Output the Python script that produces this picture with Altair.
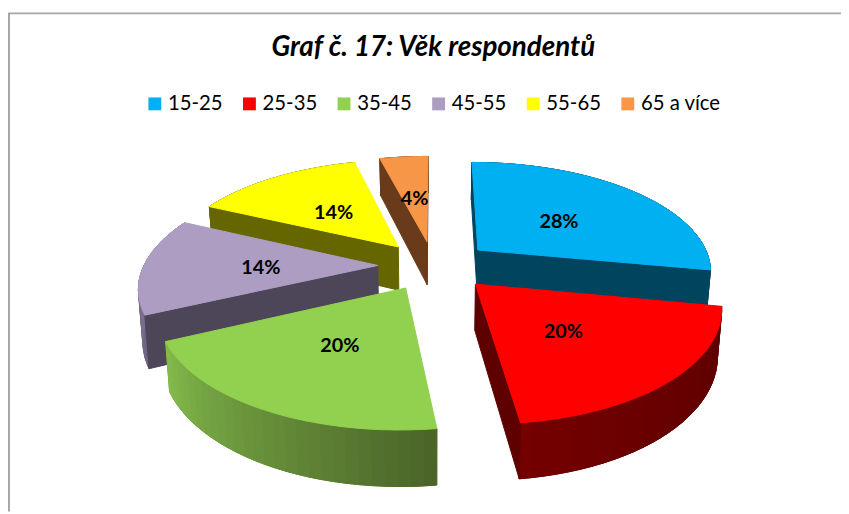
import math
import altair as alt
import pandas as pd

# ---- chart values
categories = ["15-25", "25-35", "35-45", "45-55", "55-65", "65 a více"]
values = [28, 20, 20, 14, 14, 4]
top_colors = ["#00B0F0", "#FF0000", "#92D050", "#AD9DC3", "#FFFF00", "#F79646"]
cut_colors = ["#00445E", "#5E0000", "#4A6328", "#4D4558", "#666600", "#693B1A"]
arc_start_colors = ["#00445E", "#5A0000", "#4A6328", "#6E6380", "#666600", "#693B1A"]
arc_end_colors = ["#00445E", "#740000", "#84BC4C", "#8E83A0", "#666600", "#693B1A"]
draw_order = [5, 4, 0, 3, 1, 2]

# ---- page layout and camera of the 3D pie
WIDTH, HEIGHT = 841, 446
PAD_TOP = 60
OX, OY = 8, 8 + PAD_TOP
CX, CY = 435.6, 265.5
AX, BY, K = 236, 109, 0.176
EXPLODE = 0.23
BASE_SHRINK = 0.985
slice_nudge = [6, 6, 1, 0, 0, 2]
slice_depth = [45, 45, 45, 50, 45, 45]
label_nudge = [0, -3, 0, 0, 1, 0]
nudge = 0
depth = 45


def project(px, py):
    w = 1 + K * py
    return CX + nudge + AX * px / w - OX, CY - BY * py / w - OY, w


def bottom(px, py):
    x, y, w = project(px, py)
    return (CX - OX) + (x - (CX - OX)) * BASE_SHRINK, y + depth / w


def top(px, py):
    x, y, _ = project(px, py)
    return x, y


def area(pts):
    return sum(
        pts[i][0] * pts[(i + 1) % len(pts)][1] - pts[(i + 1) % len(pts)][0] * pts[i][1]
        for i in range(len(pts))
    )


def mix(c1, c2, t):
    a = [int(c1[i:i + 2], 16) for i in (1, 3, 5)]
    b = [int(c2[i:i + 2], 16) for i in (1, 3, 5)]
    return "#%02X%02X%02X" % tuple(round(u + (v - u) * t) for u, v in zip(a, b))


def feature(pts, fill):
    ring = [[round(x, 2), round(y, 2)] for x, y in pts]
    ring.append(ring[0])
    return {
        "type": "Feature",
        "geometry": {"type": "Polygon", "coordinates": [ring]},
        "properties": {"fill": fill},
    }


# ---- slices computed from the values
total = sum(values)
starts, acc = [], 0
for v in values:
    starts.append(acc / total * 2 * math.pi)
    acc += v

features, labels = [], []
for i in draw_order:
    nudge = slice_nudge[i]
    depth = slice_depth[i]
    a0 = starts[i]
    a1 = a0 + values[i] / total * 2 * math.pi
    mid = (a0 + a1) / 2
    ax, ay = EXPLODE * math.sin(mid), EXPLODE * math.cos(mid)
    steps = max(4, int(math.degrees(a1 - a0) / 2.5))
    rim = [
        (ax + math.sin(a0 + (a1 - a0) * s / steps), ay + math.cos(a0 + (a1 - a0) * s / steps))
        for s in range(steps + 1)
    ]
    outline = [top(ax, ay)] + [top(*p) for p in rim]
    sign = area(outline)
    # outer wall: one base shape, then shaded strips
    base = [top(*p) for p in rim] + [bottom(*p) for p in reversed(rim)]
    features.append(feature(base, mix(arc_start_colors[i], arc_end_colors[i], 0.5)))
    for s in range(steps):
        p, q = rim[s], rim[s + 1]
        col = mix(arc_start_colors[i], arc_end_colors[i], (s + 0.5) / steps)
        features.append(feature([top(*p), top(*q), bottom(*q), bottom(*p)], col))
    # the two cut walls, only when they face the viewer
    for p, q in (((ax, ay), rim[0]), (rim[-1], (ax, ay))):
        quad = [top(*p), top(*q), bottom(*q), bottom(*p)]
        if area(quad) * sign < 0:
            features.append(feature(quad, cut_colors[i]))
    features.append(feature(outline, top_colors[i]))
    lx, ly = ax + 0.5 * math.sin(mid), ay + 0.5 * math.cos(mid)
    tx, ty = top(lx, ly)
    labels.append({"x": tx + label_nudge[i], "y": ty + 3, "label": f"{values[i]}%"})

FONT = "Lato"

pie = (
    alt.Chart(
        alt.InlineData(
            values={"type": "FeatureCollection", "features": features},
            format=alt.DataFormat(type="json", property="features"),
        )
    )
    .mark_geoshape(strokeWidth=1)
    .encode(
        fill=alt.Fill("properties.fill:N", scale=None),
        stroke=alt.Stroke("properties.fill:N", scale=None),
    )
    .project(type="identity", scale=1, translate=[0, 0])
)

text = (
    alt.Chart(pd.DataFrame(labels))
    .mark_text(font=FONT, fontSize=20, fontWeight="bold", color="black", baseline="middle", align="center")
    .encode(
        x=alt.X("x:Q", scale=None, axis=None),
        y=alt.Y("y:Q", scale=None, axis=None),
        text="label:N",
    )
)

legend_source = (
    alt.Chart(pd.DataFrame({"category": categories}))
    .mark_point(filled=True, size=0, opacity=0)
    .encode(
        color=alt.Color(
            "category:N",
            sort=categories,
            scale=alt.Scale(domain=categories, range=top_colors),
            legend=alt.Legend(
                title=None,
                orient="none",
                legendX=138,
                legendY=24,
                direction="horizontal",
                columns=6,
                symbolType="square",
                symbolSize=169,
                symbolOpacity=1,
                symbolStrokeWidth=0,
                labelFont=FONT,
                labelFontSize=20.5,
                labelColor="#000000",
                labelOffset=3,
                columnPadding=16.5,
                padding=0,
            ),
        )
    )
)

frame_top = alt.Chart(pd.DataFrame({"a": [0]})).mark_rule(color="#A6A6A6", strokeWidth=2).encode(
    x=alt.value(0), x2=alt.value(WIDTH), y=alt.value(11 - OY)
)
frame_left = alt.Chart(pd.DataFrame({"a": [0]})).mark_rule(color="#A6A6A6", strokeWidth=2).encode(
    x=alt.value(1), y=alt.value(11 - OY), y2=alt.value(HEIGHT)
)

chart = (
    alt.layer(frame_top, frame_left, pie, text, legend_source)
    .properties(
        width=WIDTH,
        height=HEIGHT,
        autosize=alt.AutoSizeParams(type="none"),
        padding={"left": 0, "top": PAD_TOP, "right": 0, "bottom": 0},
        background="white",
        title=alt.TitleParams(
            "Graf č. 17: Věk respondentů",
            font=FONT,
            fontSize=28,
            fontWeight="bold",
            fontStyle="italic",
            color="#000000",
            anchor="middle",
            dx=9,
            offset=-50,
        ),
    )
    .configure_view(stroke=None)
)

chart.save("out.html", embed_options={"renderer": "svg", "actions": False})
